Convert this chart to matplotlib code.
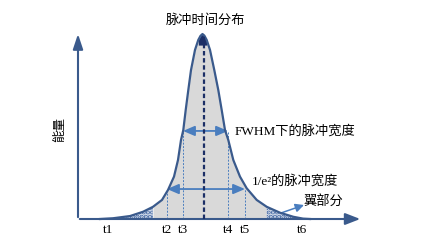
import matplotlib
matplotlib.use('Agg')
import matplotlib.pyplot as plt
import numpy as np

# pulse profile (time in px-like units, energy 0..1)
t = np.array([100, 113, 130, 143, 153, 162, 168, 174, 178, 181, 183.3, 185.7, 188.3,
              191, 195, 198.3, 200.5, 202.5, 204.5, 206.7, 210, 214.3, 218.3, 221.7,
              225, 228.3, 233.3, 240, 246.7, 256.7, 266.7, 280, 293.3, 303, 310])
energy = np.array([0.0, 0.004, 0.016, 0.039, 0.066, 0.103, 0.157, 0.229, 0.319, 0.427,
                   0.481, 0.589, 0.697, 0.805, 0.914, 0.968, 0.99, 1.0, 0.99, 0.968,
                   0.914, 0.805, 0.697, 0.589, 0.481, 0.427, 0.319, 0.229, 0.166, 0.103,
                   0.066, 0.034, 0.012, 0.002, 0.0])

tick_names = ['t1', 't2', 't3', 't4', 't5', 't6']
tick_pos = [108, 167, 183, 228, 245, 302]
peak_t = 203.5
fwhm_level = 0.476
e2_level = 0.162

line_c = '#3a5a8c'
arrow_c = '#4a7ebf'
cjk = ['Liberation Serif', 'Noto Sans CJK SC']
sans = ['Noto Sans CJK SC', 'DejaVu Sans']

fig = plt.figure(figsize=(4.21, 2.48), dpi=100)
ax = fig.add_axes([0, 0, 1, 1])
ax.set_xlim(0, 421)
ax.set_ylim((219 - 248) / 185, 219 / 185)
ax.axis('off')

# fills
mid = (t >= 153) & (t <= 266.7)
ax.fill_between(t, 0, energy, where=mid, color='#d9d9d9', lw=0)
left_w = (t >= 113) & (t <= 153)
right_w = (t >= 266.7) & (t <= 293.3)
plt.rcParams['hatch.linewidth'] = 2.2
for w in (left_w, right_w):
    ax.fill_between(t, 0, energy, where=w, facecolor='#f4f6fa', edgecolor='#3f64a0',
                    hatch='....', lw=0)
top = energy >= 0.94
ax.fill_between(t, 0.94, energy, where=top, color='#1c2f66', lw=0)

ax.plot(t, energy, color=line_c, lw=1.6, zorder=5, solid_joinstyle='round')

# dashed guide lines
for x, lev in zip(tick_pos[1:5], [e2_level, fwhm_level, fwhm_level, e2_level]):
    ax.plot([x, x], [0, lev], color=arrow_c, lw=0.7, ls=(0, (2, 1.5)))
ax.plot([peak_t, peak_t], [0, 1.0], color='#1c2f66', lw=1.6, ls=(0, (2, 1.2)), zorder=6)

# axes with arrows
ax.annotate('', xy=(78, 1.015), xytext=(78, -0.005),
            arrowprops=dict(arrowstyle='-|>,head_length=0.9,head_width=0.3',
                            color=line_c, lw=1.5))
ax.annotate('', xy=(363, 0), xytext=(77, 0),
            arrowprops=dict(arrowstyle='-|>,head_length=0.9,head_width=0.35',
                            color=line_c, lw=1.5))

# width arrows
for a, b, lev in [(tick_pos[2], tick_pos[3], fwhm_level), (tick_pos[1], tick_pos[4], e2_level)]:
    ax.annotate('', xy=(b, lev), xytext=(a, lev),
                arrowprops=dict(arrowstyle='<|-|>,head_length=0.7,head_width=0.3',
                                color=arrow_c, lw=1.3, shrinkA=0, shrinkB=0))

# wing pointer
ax.annotate('', xy=(304, (219 - 205) / 185), xytext=(281, (219 - 213) / 185),
            arrowprops=dict(arrowstyle='-|>,head_length=0.5,head_width=0.25',
                            color=arrow_c, lw=1.1, shrinkA=0, shrinkB=0))

# labels
for name, x in zip(tick_names, tick_pos):
    ax.text(x, (219 - 230) / 185, name, ha='center', va='center', fontsize=9.5,
            family='Liberation Serif')
ax.text(205, (219 - 20) / 185, '脉冲时间分布', ha='center', va='center', fontsize=9.5, family=sans)
ax.text(235, fwhm_level, 'FWHM下的脉冲宽度', ha='left', va='center', fontsize=9.5, family=cjk)
ax.text(252, (219 - 181) / 185, '1/e²的脉冲宽度', ha='left', va='center', fontsize=9.5, family=cjk)
ax.text(303, (219 - 201) / 185, '翼部分', ha='left', va='center', fontsize=9.5, family=sans)
ax.text(60, (219 - 130) / 185, '能量', ha='center', va='center', fontsize=9, rotation=90, family=sans)

fig.savefig('out.png', dpi=100)
